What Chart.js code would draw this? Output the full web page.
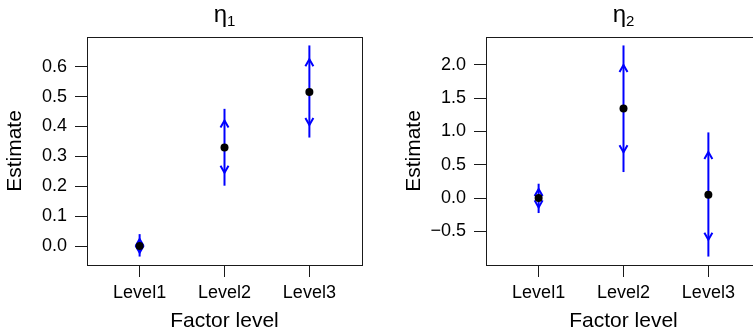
<!DOCTYPE html>
<html><head><meta charset="utf-8">
<script src="https://cdn.jsdelivr.net/npm/chart.js@4"></script>
<style>
html,body{margin:0;padding:0;background:#fff;overflow:hidden;width:753px;height:335px;position:relative;}
#c1{position:absolute;left:0;top:0;}
#c2{position:absolute;left:399px;top:0;}
</style></head><body>
<canvas id="c1" width="380" height="335"></canvas>
<canvas id="c2" width="380" height="335"></canvas>
<script>
const categories = ['Level1', 'Level2', 'Level3'];
const categoryPositions = [1, 2, 3];

// eta_1 panel
const eta1Estimate   = [0.000, 0.330, 0.515];
const eta1Lower      = [-0.035, 0.202, 0.363];
const eta1Upper      = [0.040, 0.459, 0.671];
const eta1InnerLower = [-0.022, 0.245, 0.405];
const eta1InnerUpper = [0.024, 0.420, 0.625];
const eta1Ticks      = [0.0, 0.1, 0.2, 0.3, 0.4, 0.5, 0.6];
const eta1TickLabels = ['0.0', '0.1', '0.2', '0.3', '0.4', '0.5', '0.6'];

// eta_2 panel
const eta2Estimate   = [0.000, 1.343, 0.050];
const eta2Lower      = [-0.225, 0.390, -0.878];
const eta2Upper      = [0.215, 2.290, 0.985];
const eta2InnerLower = [-0.140, 0.687, -0.627];
const eta2InnerUpper = [0.135, 1.995, 0.691];
const eta2Ticks      = [-0.5, 0.0, 0.5, 1.0, 1.5, 2.0];
const eta2TickLabels = ['\u22120.5', '0.0', '0.5', '1.0', '1.5', '2.0'];

const FONT = '"Liberation Sans", Arial, Helvetica, sans-serif';
Chart.defaults.font.family = FONT;
Chart.defaults.color = '#000';

function expandRange(values) {
  const mn = Math.min(...values), mx = Math.max(...values);
  const d = (mx - mn) * 0.04;
  return [mn - d, mx + d];
}

function makePanel(canvasId, titleMain, titleSub, est, lo, hi, inLo, inHi, ticks, tickLabels) {
  const [yMin, yMax] = expandRange(lo.concat(hi));
  const errorArrows = {
    id: 'errorArrows',
    beforeDatasetsDraw(chart) {
      const ctx = chart.ctx, xs = chart.scales.x, ys = chart.scales.y;
      ctx.save();
      ctx.strokeStyle = '#0000ff';
      ctx.lineWidth = 2;
      ctx.lineCap = 'butt';
      const aw = 4, ah = 7;
      for (let i = 0; i < est.length; i++) {
        const x = xs.getPixelForValue(categoryPositions[i]);
        const yl = ys.getPixelForValue(lo[i]);
        const yh = ys.getPixelForValue(hi[i]);
        ctx.beginPath(); ctx.moveTo(x, yl); ctx.lineTo(x, yh); ctx.stroke();
        const yu = ys.getPixelForValue(inHi[i]);
        ctx.beginPath(); ctx.moveTo(x - aw, yu + ah); ctx.lineTo(x, yu); ctx.lineTo(x + aw, yu + ah); ctx.stroke();
        const yd = ys.getPixelForValue(inLo[i]);
        ctx.beginPath(); ctx.moveTo(x - aw, yd - ah); ctx.lineTo(x, yd); ctx.lineTo(x + aw, yd - ah); ctx.stroke();
      }
      ctx.restore();
    },
    afterDraw(chart) {
      const a = chart.chartArea, ctx = chart.ctx;
      ctx.save();
      ctx.strokeStyle = '#1a1a1a';
      ctx.lineWidth = 1;
      ctx.strokeRect(Math.round(a.left) + 0.5, Math.round(a.top) + 0.5,
                     Math.round(a.right - a.left), Math.round(a.bottom - a.top));
      // panel title: eta with subscript, centred over the plot box
      ctx.fillStyle = '#000';
      ctx.textBaseline = 'alphabetic';
      ctx.textAlign = 'left';
      ctx.font = '24px ' + FONT;
      const wMain = ctx.measureText(titleMain).width;
      ctx.font = '15px ' + FONT;
      const wSub = ctx.measureText(titleSub).width;
      const cx = (a.left + a.right) / 2;
      const x0 = cx - (wMain + wSub) / 2;
      ctx.font = '24px ' + FONT;
      ctx.fillText(titleMain, x0, 22);
      ctx.font = '15px ' + FONT;
      ctx.fillText(titleSub, x0 + wMain, 26);
      ctx.restore();
    }
  };
  return new Chart(document.getElementById(canvasId), {
    type: 'scatter',
    data: {
      datasets: [{
        data: est.map((v, i) => ({x: categoryPositions[i], y: v})),
        pointRadius: 4,
        pointHoverRadius: 4,
        backgroundColor: '#000',
        borderWidth: 0
      }]
    },
    options: {
      responsive: false,
      animation: false,
      events: [],
      layout: {padding: {left: 0, right: 18, top: 37, bottom: 0}},
      plugins: {
        legend: {display: false},
        tooltip: {enabled: false},
        title: {display: false}
      },
      scales: {
        x: {
          type: 'linear', min: 0.38, max: 3.62,
          afterFit(s) { s.height = 70; },
          afterBuildTicks(s) { s.ticks = categoryPositions.map(v => ({value: v})); },
          ticks: {
            autoSkip: false, maxRotation: 0, padding: 5,
            font: {size: 18}, color: '#000',
            callback: v => categories[categoryPositions.indexOf(v)]
          },
          grid: {display: true, drawOnChartArea: false, drawTicks: true, tickLength: 12, color: '#1a1a1a', lineWidth: 1},
          border: {display: true, color: '#1a1a1a'},
          title: {display: true, text: 'Factor level', font: {size: 21}, color: '#000', padding: {top: 0, bottom: 1}}
        },
        y: {
          type: 'linear', min: yMin, max: yMax,
          afterFit(s) { s.width = 87; },
          afterBuildTicks(s) { s.ticks = ticks.map(v => ({value: v})); },
          ticks: {
            autoSkip: false, padding: 8,
            font: {size: 18}, color: '#000',
            callback: (v, i) => tickLabels[i]
          },
          grid: {display: true, drawOnChartArea: false, drawTicks: true, tickLength: 12, color: '#1a1a1a', lineWidth: 1},
          border: {display: true, color: '#1a1a1a'},
          title: {display: true, text: 'Estimate', font: {size: 21}, color: '#000', padding: {top: 3, bottom: 0}}
        }
      }
    },
    plugins: [errorArrows]
  });
}

makePanel('c1', '\u03b7', '1', eta1Estimate, eta1Lower, eta1Upper, eta1InnerLower, eta1InnerUpper, eta1Ticks, eta1TickLabels);
makePanel('c2', '\u03b7', '2', eta2Estimate, eta2Lower, eta2Upper, eta2InnerLower, eta2InnerUpper, eta2Ticks, eta2TickLabels);
</script>
</body></html>
